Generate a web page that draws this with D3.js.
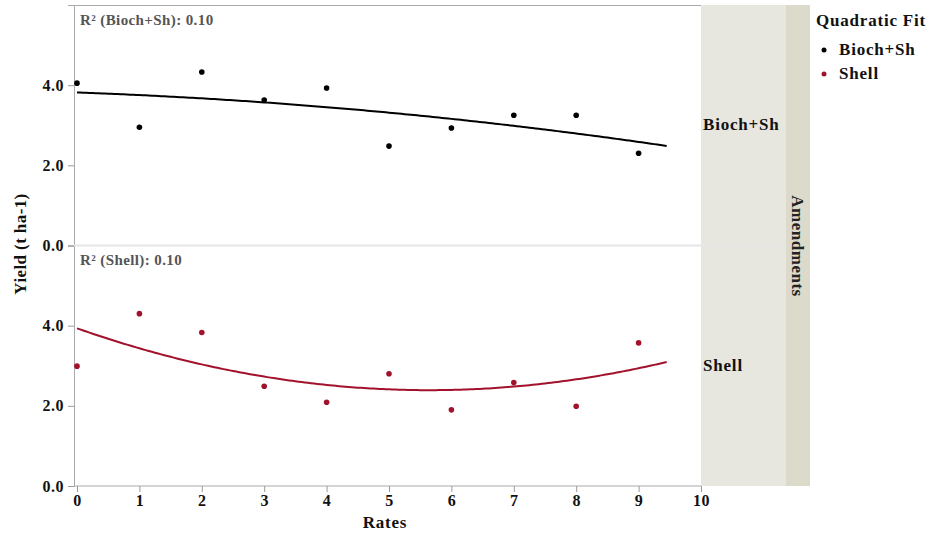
<!DOCTYPE html>
<html>
<head>
<meta charset="utf-8">
<script src="https://cdn.jsdelivr.net/npm/d3@7"></script>
<style>
  body { margin: 0; background: #fff; }
  text { font-family: "Liberation Serif", "Times New Roman", serif; font-weight: bold; }
</style>
</head>
<body>
<div id="chart"></div>
<script>
var svgWidth = 930;
var svgHeight = 537;

// data
var rates = [0, 1, 2, 3, 4, 5, 6, 7, 8, 9];
var amendments = ["Bioch+Sh", "Shell"];
var biochShYield = [4.05, 2.95, 4.33, 3.63, 3.93, 2.48, 2.93, 3.25, 3.25, 2.30];
var shellYield = [2.99, 4.30, 3.83, 2.49, 2.09, 2.80, 1.90, 2.58, 1.99, 3.57];
var r2Labels = ["R\u00b2 (Bioch+Sh): 0.10", "R\u00b2 (Shell): 0.10"];
var seriesColors = ["#000000", "#a3122d"];
var xTicks = [0, 1, 2, 3, 4, 5, 6, 7, 8, 9, 10];
var yTicks = [0, 2, 4];
var fitEnd = 9.45;

var plot = { left: 74, right: 701, top: 5, bottom: 486 };
var panelH = (plot.bottom - plot.top) / 2;

var svg = d3.select("#chart")
  .append("svg")
  .attr("width", svgWidth)
  .attr("height", svgHeight);

var xScale = d3.scaleLinear().domain([0, 10]).range([77, 701]);

// quadratic least squares fit
function quadFit(xs, ys) {
  var n = xs.length, s = [0, 0, 0, 0, 0], t = [0, 0, 0];
  for (var i = 0; i < n; i++) {
    for (var k = 0; k < 5; k++) s[k] += Math.pow(xs[i], k);
    for (var k2 = 0; k2 < 3; k2++) t[k2] += ys[i] * Math.pow(xs[i], k2);
  }
  var A = [[s[0], s[1], s[2], t[0]], [s[1], s[2], s[3], t[1]], [s[2], s[3], s[4], t[2]]];
  for (var c = 0; c < 3; c++) {
    for (var r = c + 1; r < 3; r++) {
      var f = A[r][c] / A[c][c];
      for (var j = c; j < 4; j++) A[r][j] -= f * A[c][j];
    }
  }
  var b = [0, 0, 0];
  for (var r2 = 2; r2 >= 0; r2--) {
    var v = A[r2][3];
    for (var j2 = r2 + 1; j2 < 3; j2++) v -= A[r2][j2] * b[j2];
    b[r2] = v / A[r2][r2];
  }
  return b;
}

var seriesData = [biochShYield, shellYield];

// strips on the right
svg.append("rect")
  .attr("x", plot.right).attr("y", plot.top)
  .attr("width", 85).attr("height", plot.bottom - plot.top)
  .attr("fill", "#e8e7df");
svg.append("rect")
  .attr("x", 786).attr("y", plot.top)
  .attr("width", 24).attr("height", plot.bottom - plot.top)
  .attr("fill", "#dcdaca");
svg.append("text")
  .attr("transform", "translate(792,246) rotate(90)")
  .attr("text-anchor", "middle")
  .attr("font-size", 17)
  .attr("letter-spacing", 0.5)
  .attr("fill", "#222")
  .text("Amendments");

seriesData.forEach(function (yields, p) {
  var top = plot.top + p * panelH;
  var yScale = d3.scaleLinear().domain([0, 6]).range([top + panelH, top]);

  // strip label
  svg.append("text")
    .attr("x", 703)
    .attr("y", yScale(3) + 5)
    .attr("font-size", 17)
    .attr("letter-spacing", 0.8)
    .attr("fill", "#111")
    .text(amendments[p]);

  // y axis
  var yAxis = svg.append("g")
    .attr("transform", `translate(${plot.left},0)`)
    .call(d3.axisLeft(yScale).tickValues(yTicks).tickFormat(d3.format(".1f")).tickSize(6).tickPadding(4));
  yAxis.select(".domain").attr("stroke", "#aaa");
  yAxis.selectAll(".tick line").attr("stroke", "#999");
  yAxis.selectAll(".tick text")
    .attr("font-size", 16).attr("fill", "#111").attr("letter-spacing", 0.5)
    .attr("font-family", "Liberation Serif").attr("font-weight", "bold");

  // R² label
  svg.append("text")
    .attr("x", 80)
    .attr("y", top + 19.5)
    .attr("font-size", 15)
    .attr("letter-spacing", 0.4)
    .attr("fill", "#555")
    .text(r2Labels[p]);

  // fitted curve
  var b = quadFit(rates, yields);
  var curve = d3.range(0, fitEnd + 0.001, 0.05).map(function (x) {
    return [x, b[0] + b[1] * x + b[2] * x * x];
  });
  svg.append("path")
    .datum(curve)
    .attr("fill", "none")
    .attr("stroke", seriesColors[p])
    .attr("stroke-width", 2)
    .attr("d", d3.line().x(d => xScale(d[0])).y(d => yScale(d[1])));

  // points
  svg.selectAll(".pt" + p)
    .data(yields)
    .enter()
    .append("circle")
    .attr("cx", (d, i) => xScale(rates[i]))
    .attr("cy", d => yScale(d))
    .attr("r", 2.8)
    .attr("fill", seriesColors[p]);
});

// panel divider
svg.append("line")
  .attr("x1", plot.left).attr("x2", 786)
  .attr("y1", plot.top + panelH).attr("y2", plot.top + panelH)
  .attr("stroke", "#e6e6e6").attr("stroke-width", 2);

// top border
svg.append("line")
  .attr("x1", plot.left).attr("x2", plot.right)
  .attr("y1", plot.top + 0.5).attr("y2", plot.top + 0.5)
  .attr("stroke", "#aaa");

// x axis
var xAxis = svg.append("g")
  .attr("transform", `translate(0,${plot.bottom})`)
  .call(d3.axisBottom(xScale).tickValues(xTicks).tickSize(6).tickPadding(3));
xAxis.select(".domain").attr("stroke", "#aaa").attr("d", `M${plot.left},0H${plot.right}`);
xAxis.selectAll(".tick line").attr("stroke", "#999");
xAxis.selectAll(".tick text")
  .attr("font-size", 16).attr("fill", "#111").attr("letter-spacing", 0.5)
  .attr("font-family", "Liberation Serif").attr("font-weight", "bold");

// axis titles
svg.append("text")
  .attr("x", 385).attr("y", 527.5)
  .attr("text-anchor", "middle")
  .attr("font-size", 17)
  .attr("letter-spacing", 0.8)
  .attr("fill", "#111")
  .text("Rates");
svg.append("text")
  .attr("transform", "translate(26,244) rotate(-90)")
  .attr("text-anchor", "middle")
  .attr("font-size", 17)
  .attr("letter-spacing", 0.4)
  .attr("fill", "#111")
  .text("Yield (t ha-1)");

// legend
var legend = svg.append("g").attr("transform", "translate(816,0)");
legend.append("text")
  .attr("x", 0).attr("y", 26)
  .attr("font-size", 17)
  .attr("letter-spacing", 0.8)
  .attr("fill", "#111")
  .text("Quadratic Fit");
amendments.forEach(function (a, i) {
  legend.append("circle")
    .attr("cx", 8).attr("cy", 50 + i * 24)
    .attr("r", 2.5)
    .attr("fill", seriesColors[i]);
  legend.append("text")
    .attr("x", 23).attr("y", 55 + i * 24)
    .attr("font-size", 17)
    .attr("letter-spacing", 0.8)
    .attr("fill", "#111")
    .text(a);
});
</script>
</body>
</html>
